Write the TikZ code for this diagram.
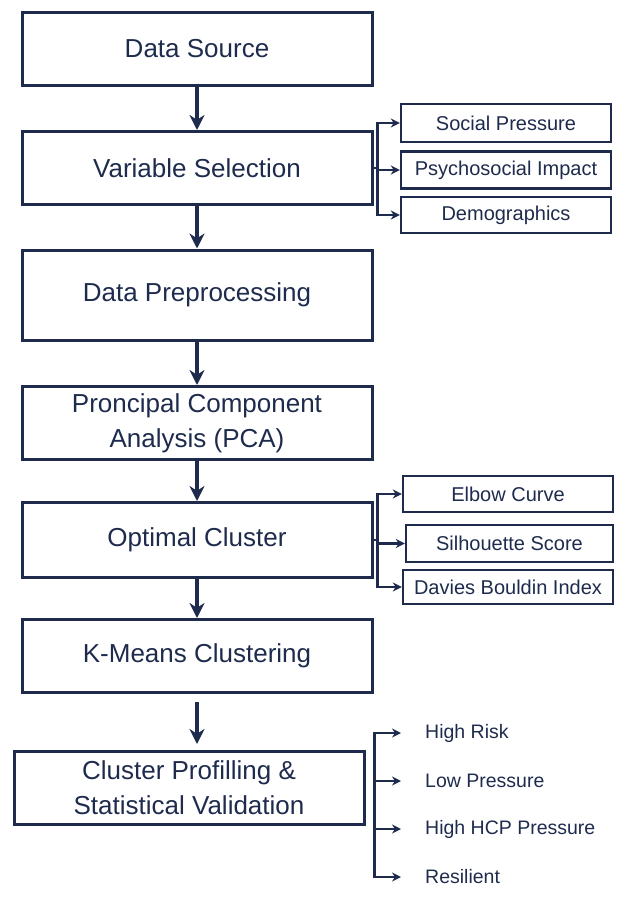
\documentclass[tikz,border=0pt]{standalone}
\usepackage{fontspec}
\setmainfont{Liberation Sans}
\usetikzlibrary{arrows.meta, positioning}
\definecolor{navy}{HTML}{1E2B4D}

\begin{document}
\begin{tikzpicture}[x=1pt,y=-1pt,>=Stealth,box/.style={draw=navy, line width=3pt, text=navy, align=center, minimum width=350pt, minimum height=73pt, inner sep=0pt, font=\fontsize{26}{35}\selectfont},sidebox/.style={draw=navy, line width=2.4pt, text=navy, align=center, minimum width=210pt, minimum height=37pt, inner sep=0pt, font=\fontsize{20}{24}\selectfont},outcome/.style={text=navy, anchor=west, inner sep=0pt, font=\fontsize{19.5}{23}\selectfont},arrow/.style={-{Stealth[length=15pt,width=15pt]}, draw=navy, line width=3.2pt},branch/.style={-{Stealth[length=9pt,width=9pt]}, draw=navy, line width=2.4pt},bar/.style={draw=navy, line width=2.4pt, line cap=rect}]
\useasboundingbox (0,0) rectangle (632,905);
\node[box] (src) at (197,49) {Data Source};
\node[box] (varsel) at (197,168) {Variable Selection};
\node[box, minimum height=90pt] (prep) at (197,295) {Data Preprocessing};
\node[box] (pca) at (197,423) {Proncipal Component\\Analysis (PCA)};
\node[box, minimum height=75pt] (optc) at (197,540) {Optimal Cluster};
\node[box] (kmeans) at (197,656) {K-Means Clustering};
\node[box] (prof) at (189,788) {Cluster Profilling \&\\Statistical Validation};
\draw[arrow] (src) -- (varsel); \draw[arrow] (varsel) -- (prep); \draw[arrow] (prep) -- (pca);
\draw[arrow] (pca) -- (optc); \draw[arrow] (optc) -- (kmeans);
\draw[arrow, shorten <=8pt, shorten >=6pt] (kmeans.south) -- (kmeans.south |- prof.north);
\node[sidebox, minimum height=38pt] (social) at (506,123) {Social Pressure};
\node[sidebox] (psycho) at (506,170) {Psychosocial Impact};
\node[sidebox, minimum height=36pt] (demog) at (506,215) {Demographics};
\coordinate[right=4pt of varsel.east] (vsj);
\draw[bar] (varsel.east) -- (vsj); \draw[bar] (vsj |- social) -- (vsj |- demog);
\draw[branch] (vsj |- social) -- (social); \draw[branch] (vsj |- psycho) -- (psycho); \draw[branch] (vsj |- demog) -- (demog);
\node[sidebox, minimum height=36pt] (elbow) at (508,494) {Elbow Curve};
\node[sidebox, minimum width=207pt] (silh) at (509.5,543.5) {Silhouette Score};
\node[sidebox, minimum height=34pt] (davies) at (508,587) {Davies Bouldin Index};
\coordinate[right=4pt of optc.east] (ocj);
\draw[bar] (optc.east) -- (ocj); \draw[bar] (ocj |- elbow) -- (ocj |- davies);
\draw[branch] (ocj |- elbow) -- (elbow); \draw[branch] (ocj |- silh) -- (silh); \draw[branch] (ocj |- davies) -- (davies);
\node[outcome] (hrisk) at (425,733) {High Risk};
\node[outcome] (lowp) at (425,781) {Low Pressure};
\node[outcome] (hcp) at (425,829) {High HCP Pressure};
\node[outcome] (resil) at (425,877) {Resilient};
\coordinate[right=9pt of prof.east] (pj);
\draw[bar] (pj |- hrisk) -- (pj |- resil);
\draw[branch, shorten >=24pt] (pj |- hrisk.west) -- (hrisk.west); \draw[branch, shorten >=24pt] (pj |- lowp.west) -- (lowp.west);
\draw[branch, shorten >=24pt] (pj |- hcp.west) -- (hcp.west); \draw[branch, shorten >=24pt] (pj |- resil.west) -- (resil.west);
\end{tikzpicture}
\end{document}
